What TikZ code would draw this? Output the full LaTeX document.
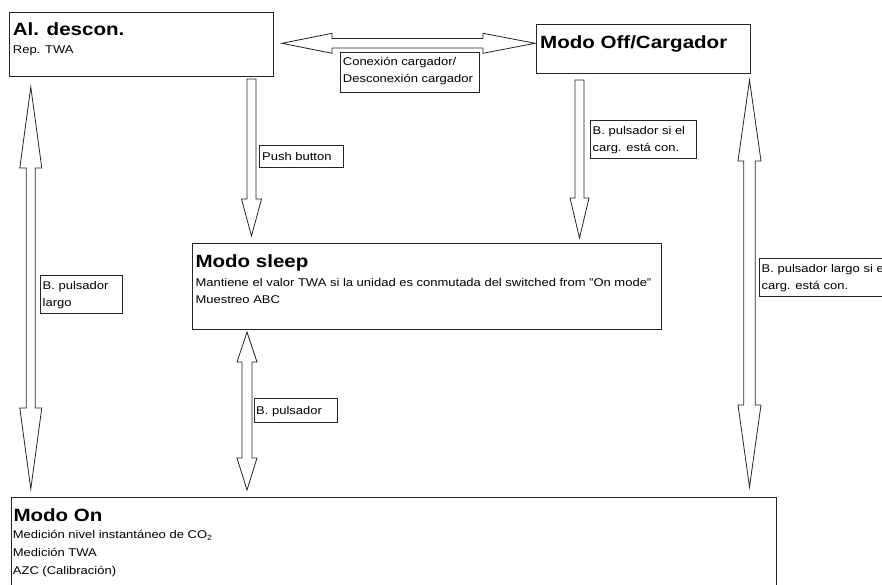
\documentclass[tikz,border=0pt]{standalone}
\usepackage{fontspec}
\setmainfont{Liberation Sans}[FakeStretch=1.16]
\newcommand{\VDbl}[7]{\draw[barrow] (#1,#2) -- ({#1+#6},#3) -- ({#1+#7},#3) -- ({#1+#7},#4) -- ({#1+#6},#4) -- (#1,#5) -- ({#1-#6},#4) -- ({#1-#7},#4) -- ({#1-#7},#3) -- ({#1-#6},#3) -- cycle;}
\newcommand{\VDown}[6]{\draw[barrow] ({#1-#6},#2) -- ({#1+#6},#2) -- ({#1+#6},#3) -- ({#1+#5},#3) -- (#1,#4) -- ({#1-#5},#3) -- ({#1-#6},#3) -- cycle;}
\newcommand{\HDbl}[7]{\draw[barrow] (#2,#1) -- (#3,{#1-#6}) -- (#3,{#1-#7}) -- (#4,{#1-#7}) -- (#4,{#1-#6}) -- (#5,#1) -- (#4,{#1+#6}) -- (#4,{#1+#7}) -- (#3,{#1+#7}) -- (#3,{#1+#6}) -- cycle;}
\newcommand{\subtwo}{\raisebox{-2.2pt}{\fontsize{7.6}{8}\selectfont 2}}
\tikzset{
  box/.style={draw=black!85, line width=0.8pt, anchor=north west, inner sep=0pt, outer sep=0pt, fill=white},
  lbl/.style={draw=black!85, line width=0.8pt, anchor=north west, inner sep=0pt, outer sep=0pt, fill=white},
  ttl/.style={anchor=base west, inner sep=0pt, font=\fontsize{17.7}{20}\selectfont\bfseries},
  txt/.style={anchor=base west, inner sep=0pt, font=\fontsize{11.2}{14}\selectfont},
  barrow/.style={draw=black!85, line width=0.8pt, fill=white, line join=miter},
}
\begin{document}
\begin{tikzpicture}[x=1pt,y=-1pt]
\clip (0,0) rectangle (882,585);
\fill[white] (0,0) rectangle (882,585);

% state boxes
\node[box, minimum width=264, minimum height=64] (descon) at (9,12) {};
\node[box, minimum width=214, minimum height=49] (off) at (536,24) {};
\node[box, minimum width=469, minimum height=86] (sleep) at (192,243) {};
\node[box, minimum width=764.5, minimum height=110] (on) at (11.5,497) {};

% box texts
\node[ttl] (descon-t) at (12.7,36) {Al. descon.};
\node[txt] (descon-1) at (12.7,54) {Rep. TWA};
\node[ttl] (off-t) at (540,48.3) {Modo Off/Cargador};
\node[ttl] (sleep-t) at (195.3,267.3) {Modo sleep};
\node[txt] (sleep-1) at (195.3,286) {Mantiene el valor TWA si la unidad es conmutada del switched from "On mode"};
\node[txt] (sleep-2) at (195.3,303.5) {Muestreo ABC};
\node[ttl] (on-t) at (13.3,521) {Modo On};
\node[txt] (on-1) at (12.7,538.7) {Medición nivel instantáneo de CO\subtwo};
\node[txt] (on-2) at (12.7,556.5) {Medición TWA};
\node[txt] (on-3) at (12.7,574.2) {AZC (Calibración)};

% block arrows
\HDbl{43.3}{282}{332}{483}{535}{10}{4.8}
\VDown{251.5}{79}{199}{236}{10}{4.5}
\VDown{579.5}{80}{198}{238}{9.5}{4.5}
\VDbl{30.8}{87}{168}{408}{489}{11}{4.5}
\VDbl{749.5}{80}{161}{405}{487}{11.5}{5.8}
\VDbl{247}{332}{362}{458}{490}{10}{5}

% labels
\node[lbl, minimum width=139, minimum height=40] (l-con) at (340,52) {};
\node[txt] (l-con-1) at (342.7,66) {Conexión cargador/};
\node[txt] (l-con-2) at (342.7,83) {Desconexión cargador};
\node[lbl, minimum width=84, minimum height=22] (l-push) at (259,145) {};
\node[txt] (l-push-1) at (262,160.5) {Push button};
\node[lbl, minimum width=106, minimum height=38] (l-off) at (590,120) {};
\node[txt] (l-off-1) at (592.5,134.3) {B. pulsador si el};
\node[txt] (l-off-2) at (592.5,151.7) {carg. está con.};
\node[lbl, minimum width=82, minimum height=38] (l-left) at (40,275) {};
\node[txt] (l-left-1) at (42.5,289.3) {B. pulsador};
\node[txt] (l-left-2) at (42.5,306.5) {largo};
\node[lbl, minimum width=160, minimum height=38.5] (l-right) at (759,258.3) {};
\node[txt] (l-right-1) at (761.5,272.5) {B. pulsador largo si el};
\node[txt] (l-right-2) at (761.5,289.5) {carg. está con.};
\node[lbl, minimum width=83, minimum height=24] (l-sl) at (254,398) {};
\node[txt] (l-sl-1) at (256,414.5) {B. pulsador};
\end{tikzpicture}
\end{document}
